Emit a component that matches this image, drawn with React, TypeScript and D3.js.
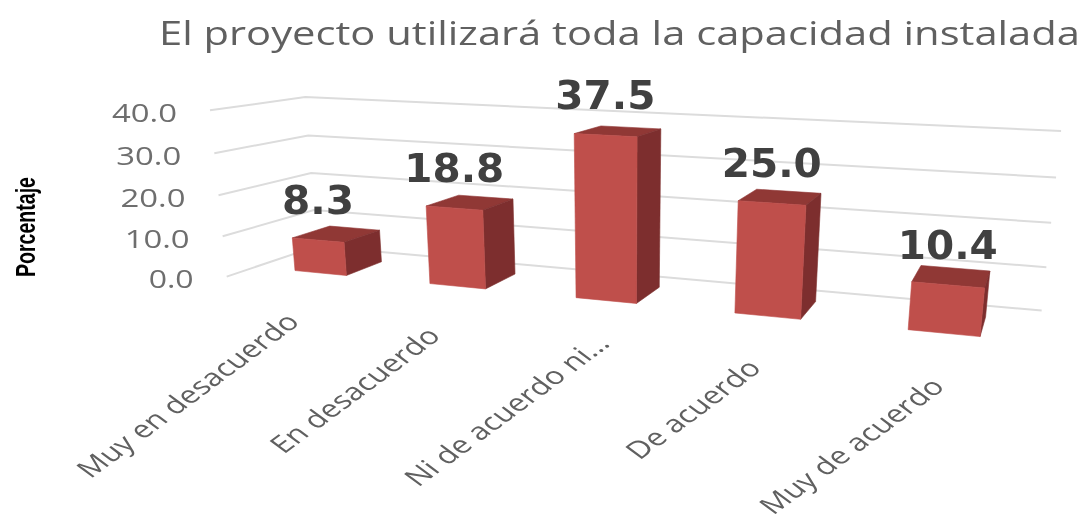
import React from "react";
import * as d3 from "d3";

const categories = ["Muy en desacuerdo", "En desacuerdo", "Ni de acuerdo ni…", "De acuerdo", "Muy de acuerdo"];
const values = [8.3, 18.8, 37.5, 25.0, 10.4];
const yTicks = [0, 10, 20, 30, 40];
const title = "El proyecto utilizará toda la capacidad instalada";
const yTitle = "Porcentaje";

const W = 1087;
const H = 518;

// Camera: homogeneous projection from chart space (u along categories, d depth, h value)
const cam = {
  ox: 320.5, oy: 273,
  xu: 131.7, xh: -0.3, xd: 37.85,
  yu: 12.7, yh: -3.93, yd: -14.15,
  wu: -0.0387, wh: -0.001, wd: 0.05,
};
const project = (u: number, d: number, h: number): [number, number] => {
  const w = 1 + cam.wu * u + cam.wh * h + cam.wd * d;
  return [
    cam.ox + (cam.xu * u + cam.xh * h + cam.xd * d) / w,
    cam.oy + (cam.yu * u + cam.yh * h + cam.yd * d) / w,
  ];
};

const uScale = d3.scalePoint<string>().domain(categories).range([0, categories.length - 1]);
const hScale = d3.scaleLinear().domain([0, 40]).range([0, 40]);
const fmt = d3.format(".1f");

const halfBar = 0.195;
const barDepth = 1;
const floorFront = -0.7;
const wallBack = 1.63;
const uMin = -0.5;
const uMax = categories.length - 0.5;

const line = d3.line<[number, number]>();
const face = (pts: [number, number, number][]) =>
  line(pts.map((p) => project(p[0], p[1], p[2]))) + "Z";

const GREY = "#606060";
const TICK = "#6e6e6e";
const LABEL = "#404040";
const FRONT = "#bf4f4b";
const TOP = "#903736";
const SIDE = "#7d2f2e";

export default function App() {
  return (
    <svg
      width={W}
      height={H}
      viewBox={`0 0 ${W} ${H}`}
      style={{ position: "absolute", left: 0, top: 0, display: "block", background: "#fff" }}
    >
      <defs>
        <filter id="soft" x="0" y="0" width="100%" height="100%" filterUnits="userSpaceOnUse">
          <feGaussianBlur stdDeviation="0.55" />
        </filter>
      </defs>
      <g filter="url(#soft)">
        <rect x={0} y={0} width={W} height={H} fill="#fff" />
        <text
          x={159}
          y={45}
          fontFamily="'Open Sans', sans-serif"
          fontSize={33.5}
          fill={GREY}
          textLength={921}
          lengthAdjust="spacingAndGlyphs"
        >
          {title}
        </text>

        <text
          transform="translate(35,227) rotate(-90)"
          textAnchor="middle"
          fontFamily="'Liberation Sans', Arial, sans-serif"
          fontWeight="bold"
          fontSize={27}
          fill="#000"
          textLength={100}
          lengthAdjust="spacingAndGlyphs"
        >
          {yTitle}
        </text>

        {yTicks.map((t) => {
          const h = hScale(t);
          const path = line([project(uMin, floorFront, h), project(uMin, wallBack, h), project(uMax, wallBack, h)]);
          const [lx, ly] = project(uMin, floorFront, h);
          const s = fmt(t);
          return (
            <g key={t}>
              <path d={path ?? ""} fill="none" stroke="#dcdcdc" strokeWidth={2} />
              <text
                x={lx - 33}
                y={ly + 11.5}
                textAnchor="end"
                fontFamily="'Open Sans', sans-serif"
                fontSize={25}
                fill={TICK}
                textLength={s.length === 4 ? 65 : 45}
                lengthAdjust="spacingAndGlyphs"
              >
                {s}
              </text>
            </g>
          );
        })}

        {categories.map((c, i) => {
          const u = uScale(c) as number;
          const h = hScale(values[i]);
          const l = u - halfBar;
          const r = u + halfBar;
          return (
            <g key={c} strokeWidth={0.6}>
              <path d={face([[l, barDepth, h], [r, barDepth, h], [r, 0, h], [l, 0, h]])} fill={TOP} stroke={TOP} />
              <path d={face([[r, 0, 0], [r, barDepth, 0], [r, barDepth, h], [r, 0, h]])} fill={SIDE} stroke={SIDE} />
              <path d={face([[l, 0, 0], [r, 0, 0], [r, 0, h], [l, 0, h]])} fill={FRONT} stroke={FRONT} />
            </g>
          );
        })}

        {categories.map((c, i) => {
          const [x, y] = project(uScale(c) as number, 0, hScale(values[i]));
          return (
            <text
              key={c}
              x={x}
              y={y - 26}
              textAnchor="middle"
              fontFamily="'DejaVu Sans', sans-serif"
              fontWeight="bold"
              fontSize={39}
              fill={LABEL}
              textLength={values[i] < 10 ? 72 : 100}
              lengthAdjust="spacingAndGlyphs"
            >
              {fmt(values[i])}
            </text>
          );
        })}

        {categories.map((c, i) => {
          const [x, y] = project(uScale(c) as number, floorFront, 0);
          // The truncated label sits further along its tick in the original.
          const nudgeX = c.endsWith("…") ? 16 : 0;
          const nudgeY = c.endsWith("…") ? -8 : 0;
          return (
            <text
              key={i}
              transform={`translate(${x + 8 + nudgeX},${y + 40 + nudgeY}) scale(1.35,1) rotate(-45)`}
              textAnchor="end"
              fontFamily="'Open Sans', sans-serif"
              fontSize={24}
              fill={GREY}
            >
              {c}
            </text>
          );
        })}
      </g>
    </svg>
  );
}
